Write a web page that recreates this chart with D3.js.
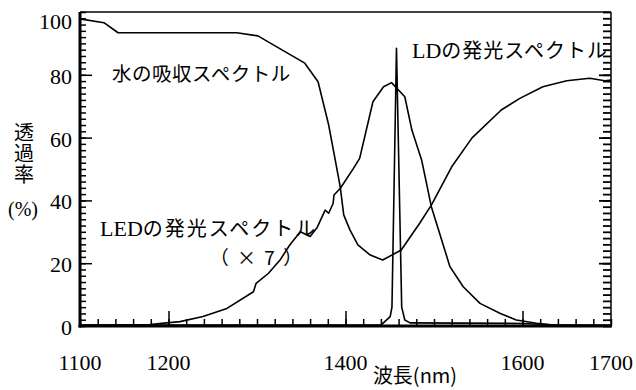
<!DOCTYPE html>
<html>
<head>
<meta charset="utf-8">
<script src="https://cdn.jsdelivr.net/npm/d3@7"></script>
</head>
<body style="margin:0;background:#fff">
<div id="chart"></div>
<script>
// wavelength (nm) / transmittance (%)
const waterNm = [1100, 1127, 1143, 1277, 1301, 1354, 1369, 1381, 1387, 1394, 1398, 1405, 1414, 1428, 1442, 1463, 1484, 1497, 1520, 1543, 1576, 1597, 1623, 1650, 1676, 1693, 1700];
const waterT  = [97.8, 96.6, 93.4, 93.4, 92.4, 83.7, 77.8, 64, 55, 44.4, 35.4, 30.6, 25.8, 22.6, 21, 24.2, 32.8, 38.5, 50.7, 59.9, 68.8, 72.5, 76.2, 78.1, 78.9, 78.1, 78.3];

const ledNm = [1100, 1150, 1179, 1198, 1213, 1239, 1266, 1296, 1299, 1313, 1326, 1337, 1349, 1360, 1368, 1377, 1381, 1386, 1387, 1394, 1409, 1416, 1431, 1443, 1452, 1467, 1475, 1486, 1497, 1518, 1533, 1552, 1575, 1593, 1616, 1634, 1700];
const ledT  = [0.2, 0.3, 0.5, 1.0, 1.4, 3, 5.6, 10.9, 13.6, 16.8, 21, 25.8, 30, 28.5, 31.4, 36.9, 35.9, 39, 41.7, 43.8, 50.2, 53.4, 71.4, 76.2, 77.5, 73, 62.4, 52.9, 38, 18.9, 12.5, 7.2, 4, 1.9, 0.9, 0.3, 0];

const ldNm = [1100, 1440, 1450.5, 1452.5, 1457.6, 1463.5, 1467, 1473, 1600, 1640, 1700];
const ldT  = [0.3, 0.3, 3, 6, 88.4, 6, 1.9, 1, 0.8, 0.3, 0.3];

const xLabels = [1100, 1200, 1400, 1600, 1700];
const xMajor = [1200, 1400, 1600];
const yLabels = [0, 20, 40, 60, 80, 100];
const yMajor = [20, 40, 60, 80];

const SERIF = '"Liberation Serif", "Times New Roman", serif';
const JP = '"Noto Sans CJK JP", "Noto Sans", sans-serif';

const W = 636, H = 390;
const plotLeft = 80, plotRight = 611, plotTop = 12, plotBottom = 326;

const svg = d3.select("#chart").append("svg")
    .attr("width", W)
    .attr("height", H);

const x = d3.scaleLinear().domain([1100, 1700]).range([plotLeft, plotRight]);
const y = d3.scaleLinear().domain([0, 100]).range([plotBottom, plotTop]);

function tickAxis(axis, pos, sw) {
    const g = svg.append("g").attr("transform", pos).call(axis);
    g.select(".domain").remove();
    g.selectAll("line").attr("stroke", "#000").attr("stroke-width", sw);
    g.selectAll("text").remove();
    return g;
}

// bottom ticks (pointing in)
tickAxis(d3.axisBottom(x).tickValues(d3.range(1100, 1701, 20)).tickSize(-7), `translate(0,${plotBottom})`, 1.5);
tickAxis(d3.axisBottom(x).tickValues(xMajor).tickSize(-15), `translate(0,${plotBottom})`, 1.5);

// left ticks
tickAxis(d3.axisLeft(y).tickValues(d3.range(0, 101, 2)).tickSize(-6), `translate(${plotLeft},0)`, 1.5);
tickAxis(d3.axisLeft(y).tickValues(yMajor).tickSize(-12), `translate(${plotLeft},0)`, 1.5);

// right ticks
tickAxis(d3.axisRight(y).tickValues(d3.range(0, 101, 2)).tickSize(-8), `translate(${plotRight},0)`, 1.8);
tickAxis(d3.axisRight(y).tickValues(yMajor).tickSize(-12), `translate(${plotRight},0)`, 1.8);

// frame
svg.append("line").attr("x1", plotLeft).attr("x2", plotRight).attr("y1", plotTop).attr("y2", plotTop)
    .attr("stroke", "#000").attr("stroke-width", 1.5);
svg.append("line").attr("x1", plotRight).attr("x2", plotRight).attr("y1", plotTop).attr("y2", plotBottom)
    .attr("stroke", "#000").attr("stroke-width", 1.5);
svg.append("line").attr("x1", plotLeft).attr("x2", plotLeft).attr("y1", plotTop).attr("y2", plotBottom + 1.5)
    .attr("stroke", "#000").attr("stroke-width", 3);
svg.append("line").attr("x1", plotLeft - 1.5).attr("x2", plotRight + 1).attr("y1", plotBottom).attr("y2", plotBottom)
    .attr("stroke", "#000").attr("stroke-width", 3);

// tick labels
svg.append("g").selectAll("text")
    .data(xLabels)
    .enter()
    .append("text")
    .style("font-family", SERIF)
    .style("font-size", "22px")
    .attr("x", d => x(d))
    .attr("y", 370)
    .attr("text-anchor", "middle")
    .text(d => d);

svg.append("g").selectAll("text")
    .data(yLabels)
    .enter()
    .append("text")
    .style("font-family", SERIF)
    .style("font-size", "22px")
    .attr("x", 72)
    .attr("y", d => d === 100 ? 29 : y(d) + 9)
    .attr("text-anchor", "end")
    .text(d => d);

// curves
const line = d3.line()
    .x(d => x(d[0]))
    .y(d => y(d[1]));

[[waterNm, waterT], [ledNm, ledT], [ldNm, ldT]].forEach(([nm, t]) => {
    svg.append("path")
        .datum(nm.map((v, i) => [v, t[i]]))
        .attr("fill", "none")
        .attr("stroke", "#000")
        .attr("stroke-width", 1.6)
        .attr("stroke-linejoin", "round")
        .attr("d", line);
});

// annotations
function jpText(xp, yp, size) {
    return svg.append("text")
        .style("font-family", JP)
        .style("font-size", size + "px")
        .attr("x", xp)
        .attr("y", yp);
}

jpText(112, 81, 19.5).style("letter-spacing", "0.5px").text("水の吸収スペクトル");

const ld = jpText(412, 58, 20);
ld.append("tspan").style("font-family", SERIF).style("font-size", "22px").text("LD");
ld.append("tspan").style("letter-spacing", "1px").text("の発光スペクトル");

const led = jpText(100, 236, 20);
led.append("tspan").style("font-family", SERIF).style("font-size", "22px").text("LED");
led.append("tspan").style("letter-spacing", "2px").text("の発光スペクトル");

jpText(257, 265, 19).attr("text-anchor", "middle").style("letter-spacing", "2px").text("（ × 7 ）");

// axis titles
jpText(415, 383, 20).attr("text-anchor", "middle").text("波長(nm)");

jpText(24, 122, 20)
    .style("writing-mode", "vertical-rl")
    .style("letter-spacing", "1px")
    .text("透過率");

svg.append("text")
    .style("font-family", SERIF)
    .style("font-size", "20px")
    .attr("x", 23).attr("y", 216)
    .attr("text-anchor", "middle")
    .text("(%)");
</script>
</body>
</html>
